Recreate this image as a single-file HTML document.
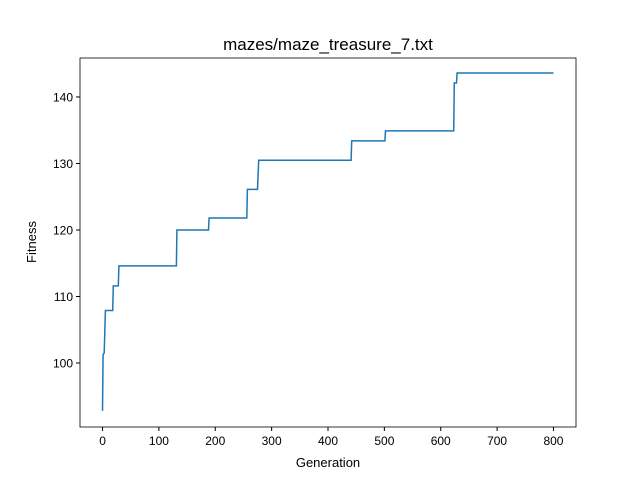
<!DOCTYPE html>
<html><head><meta charset="utf-8"><style>
body{margin:0;background:#fff;}
svg{display:block;font-family:"Liberation Sans","DejaVu Sans",sans-serif;}
</style></head><body>
<svg id="chart" width="640" height="480">
<rect width="640" height="480" fill="#fff"/>
<text x="328" y="50" text-anchor="middle" font-size="17">mazes/maze_treasure_7.txt</text>
<g id="xticks"></g>
<g id="yticks"></g>
<path id="line" fill="none" stroke="#1f77b4" stroke-width="1.5"/>
<rect x="80" y="58" width="496" height="369" fill="none" stroke="#000" stroke-width="0.8"/>
<text x="328" y="467" text-anchor="middle" font-size="13">Generation</text>
<text transform="translate(36,242) rotate(-90)" text-anchor="middle" font-size="13">Fitness</text>
</svg>
<script>
const generations=[0,1,3,5,18,19,28,29,131,132,188,189,256,257,275,277,441,442,501,502,623,624,628,629,800];
const fitness=[92.8,101.3,101.5,107.9,107.9,111.6,111.6,114.6,114.6,120,120,121.8,121.8,126.1,126.1,130.5,130.5,133.4,133.4,134.9,134.9,142.1,142.1,143.6,143.6];
const xTickLabels=[0,100,200,300,400,500,600,700,800];
const yTickLabels=[100,110,120,130,140];
const X0=80,X1=576,Y0=58,Y1=427;
const xMin=-40,xMax=840,yMin=90.38,yMax=145.86;
const sx=v=>X0+(v-xMin)/(xMax-xMin)*(X1-X0);
const sy=v=>Y1-(v-yMin)/(yMax-yMin)*(Y1-Y0);
const NS="http://www.w3.org/2000/svg";
let d="";
generations.forEach((g,i)=>{d+=(i?"L":"M")+sx(g).toFixed(1)+","+sy(fitness[i]).toFixed(1);});
document.getElementById("line").setAttribute("d",d);
const xg=document.getElementById("xticks");
xTickLabels.forEach(v=>{
 const l=document.createElementNS(NS,"line");
 l.setAttribute("x1",sx(v));l.setAttribute("x2",sx(v));l.setAttribute("y1",Y1);l.setAttribute("y2",Y1+4);l.setAttribute("stroke","#000");
 
 
 xg.appendChild(l);
 const t=document.createElementNS(NS,"text");
 t.setAttribute("x",sx(v));t.setAttribute("y",Y1+18);t.setAttribute("text-anchor","middle");t.setAttribute("font-size","12");t.textContent=v;
 
 
 xg.appendChild(t);
});
const yg=document.getElementById("yticks");
yTickLabels.forEach(v=>{
 const l=document.createElementNS(NS,"line");
 l.setAttribute("x1",X0-4);l.setAttribute("x2",X0);l.setAttribute("y1",sy(v));l.setAttribute("y2",sy(v));l.setAttribute("stroke","#000");
 
 
 yg.appendChild(l);
 const t=document.createElementNS(NS,"text");
 t.setAttribute("x",X0-7);t.setAttribute("y",sy(v)+4.5);t.setAttribute("text-anchor","end");t.setAttribute("font-size","12");t.textContent=v;
 
 
 yg.appendChild(t);
});
</script>
</body></html>
